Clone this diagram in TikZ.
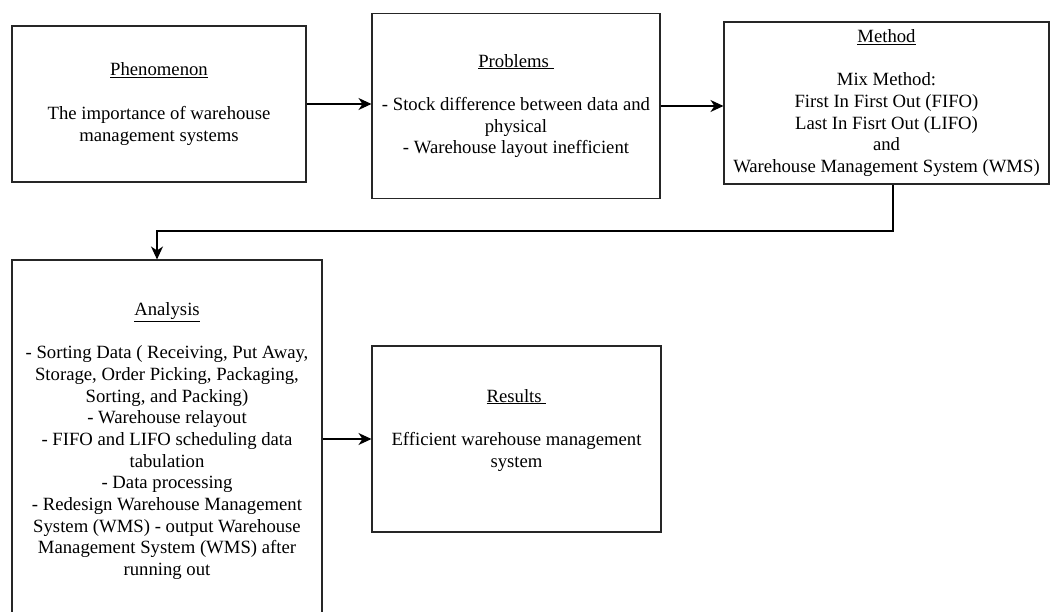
\documentclass[tikz,border=0pt]{standalone}
\usepackage{fontspec}
\setmainfont{Liberation Serif}
\usetikzlibrary{arrows.meta,positioning}

\tikzset{
  stage/.style={draw=black!85, line width=1.1pt, align=center, inner sep=0pt,
    font=\fontsize{18.7}{21.7}\selectfont},
  flow/.style={line width=1.1pt, -{Stealth[length=13pt,width=12pt,inset=4pt]}}
}

\begin{document}
\begin{tikzpicture}[x=1pt,y=-1pt]
		\useasboundingbox (0,0) rectangle (1050,612);
		
		\node[stage, minimum width=294pt, minimum height=156pt] (phen) at (159,104)
			{\underline{Phenomenon}\\ \mbox{}\\ The importance of warehouse\\ management systems};
		\node[stage, minimum width=288pt, minimum height=185pt] (prob) at (516,106)
			{\underline{Problems\ }\\ \mbox{}\\ - Stock difference between data and\\ physical\\ - Warehouse layout inefficient};
		\node[stage, minimum width=325pt, minimum height=162pt] (meth) at (886.5,103)
			{\underline{Method}\\ \mbox{}\\ Mix Method:\\ First In First Out (FIFO)\\ Last In Fisrt Out (LIFO)\\ and\\ Warehouse Management System (WMS)};
		
		\node[stage, minimum width=310pt, minimum height=362pt] (ana) at (167,441)
			{\underline{Analysis}\\ \mbox{}\\ - Sorting Data ( Receiving, Put Away,\\ Storage, Order Picking, Packaging,\\ Sorting, and Packing)\\ - Warehouse relayout\\ - FIFO and LIFO scheduling data\\ tabulation\\ - Data processing\\ - Redesign Warehouse Management\\ System (WMS) - output Warehouse\\ Management System (WMS) after\\ running out};
		\node[stage, minimum width=289pt, minimum height=186pt] (res) at (516.5,439)
			{\underline{Results\ }\\ \mbox{}\\ Efficient warehouse management\\ system\\ \mbox{}};
		
		\draw[flow] (phen.east) -- (phen.east -| prob.west);  % phenomenon to problems
		\draw[flow] (prob.east) -- (prob.east -| meth.west);  % problems to method
		
		\coordinate (turn) at (893,231);
		\draw[flow] (meth.south -| turn) -- (turn) -| ([xshift=-10pt]ana.north);  % back to analysis
		
		\draw[flow] (ana.east |- res.west) -- (res.west);  % analysis to results
\end{tikzpicture}
\end{document}
